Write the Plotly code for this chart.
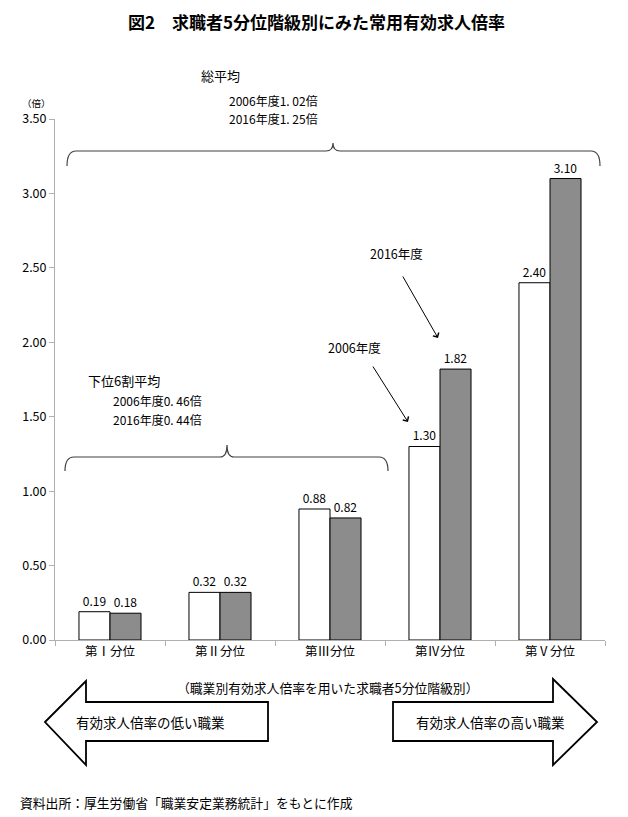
import plotly.graph_objects as go

# ---- data ----
categories = ["第Ⅰ分位", "第Ⅱ分位", "第Ⅲ分位", "第Ⅳ分位", "第Ⅴ分位"]
series_names = ["2006年度", "2016年度"]
values_2006 = [0.19, 0.32, 0.88, 1.30, 2.40]
values_2016 = [0.18, 0.32, 0.82, 1.82, 3.10]
y_ticks = [0.0, 0.5, 1.0, 1.5, 2.0, 2.5, 3.0, 3.5]

FONT = "Noto Sans CJK JP"
W, H = 628, 817
L, R, T, B = 55, 605, 119, 640  # plot area in page pixels


def px(x):
    return (x - L) / (R - L)


def py(y):
    return (B - y) / (B - T)


def path(points):
    return " ".join(f"{px(p[0]):.5f},{py(p[1]):.5f}" for p in points)


fig = go.Figure()
fig.add_trace(go.Bar(
    x=categories, y=values_2006, name=series_names[0],
    marker=dict(color="white", line=dict(color="black", width=1)),
    text=[f"{v:.2f}" for v in values_2006], textposition="outside",
    textfont=dict(size=12, color="black", family=FONT), cliponaxis=False,
))
fig.add_trace(go.Bar(
    x=categories, y=values_2016, name=series_names[1],
    marker=dict(color="#8c8c8c", line=dict(color="black", width=1)),
    text=[f"{v:.2f}" for v in values_2016], textposition="outside",
    textfont=dict(size=12, color="black", family=FONT), cliponaxis=False,
))

shapes = []
brace_style = dict(type="path", xref="paper", yref="paper",
                   line=dict(color="#404040", width=1.2))
# big brace (総平均)
big = ("M " + path([(67, 166)]) + " Q " + path([(67, 151), (76, 151)]) +
       " L " + path([(326, 151)]) + " Q " + path([(333, 151), (333, 143)]) +
       " Q " + path([(333, 151), (340, 151)]) + " L " + path([(591, 151)]) +
       " Q " + path([(600, 151), (600, 166)]))
shapes.append(dict(path=big, **brace_style))
# small brace (下位6割平均)
small = ("M " + path([(65, 471)]) + " Q " + path([(65, 457), (74, 457)]) +
         " L " + path([(220, 457)]) + " Q " + path([(227, 457), (227, 445)]) +
         " Q " + path([(227, 457), (234, 457)]) + " L " + path([(379, 457)]) +
         " Q " + path([(388, 457), (388, 471)]))
shapes.append(dict(path=small, **brace_style))

block_style = dict(type="path", xref="paper", yref="paper",
                   fillcolor="white", line=dict(color="black", width=1.8))
left_arrow = "M " + " L ".join(path([p]) for p in
                               [(45, 722), (86, 681), (86, 702), (268, 702),
                                (268, 741), (86, 741), (86, 765)]) + " Z"
right_arrow = "M " + " L ".join(path([p]) for p in
                                [(393, 702), (553, 702), (553, 679), (597, 722),
                                 (553, 765), (553, 741), (393, 741)]) + " Z"
shapes.append(dict(path=left_arrow, **block_style))
shapes.append(dict(path=right_arrow, **block_style))

ann = []


def text(t, x, y, size=13, anchor="left", bold=False):
    ann.append(dict(text=f"<b>{t}</b>" if bold else t, x=px(x), y=py(y),
                    xref="paper", yref="paper", xanchor=anchor, yanchor="middle",
                    align="left", showarrow=False,
                    font=dict(size=size, color="black", family=FONT)))


text("図2　求職者5分位階級別にみた常用有効求人倍率", 316, 22, size=17, anchor="center", bold=True)
text("総平均", 199, 75, size=13)
text("2006年度1. 02倍", 227, 100.5, size=12)
text("2016年度1. 25倍", 227, 118.5, size=12)
text("下位6割平均", 86, 380, size=13)
text("2006年度0. 46倍", 111, 401, size=12)
text("2016年度0. 44倍", 111, 419, size=12)
text("2016年度", 368, 253, size=12.5)
text("2006年度", 326, 347, size=12.5)
text("（倍）", 36, 103, size=9.5, anchor="center")
text("（職業別有効求人倍率を用いた求職者5分位階級別）", 327, 687, size=12.8, anchor="center")
text("有効求人倍率の低い職業", 150, 722, size=13.5, anchor="center")
text("有効求人倍率の高い職業", 490, 722, size=13.5, anchor="center")
text("資料出所：厚生労働省「職業安定業務統計」をもとに作成", 18, 802, size=12.8)

# pointer arrows
for head, tail in [((438, 338), (402, 275)), ((408, 422), (372, 365))]:
    ann.append(dict(text="", x=px(head[0]), y=py(head[1]), xref="paper", yref="paper",
                    ax=tail[0] - head[0], ay=tail[1] - head[1], axref="pixel", ayref="pixel",
                    showarrow=True, arrowhead=4, arrowsize=1.3, arrowwidth=1,
                    arrowcolor="black", standoff=0, startstandoff=0))

fig.update_layout(
    width=W, height=H, autosize=False,
    margin=dict(l=L, r=W - R, t=T, b=H - B, pad=0),
    paper_bgcolor="white", plot_bgcolor="white",
    barmode="group", bargap=0.436, bargroupgap=0,
    showlegend=False,
    font=dict(family=FONT, color="black"),
    shapes=shapes, annotations=ann,
    xaxis=dict(showline=True, linecolor="#b0b0b0", linewidth=1,
               ticks="outside", tickson="boundaries", ticklen=5, tickcolor="#b0b0b0",
               tickfont=dict(size=12.5, family=FONT, color="black"),
               showgrid=False, fixedrange=True),
    yaxis=dict(range=[0, 3.5], tickvals=y_ticks, ticktext=[f"{v:.2f}" for v in y_ticks],
               showline=True, linecolor="#b0b0b0", linewidth=1,
               ticks="outside", ticklen=5, tickcolor="#b0b0b0",
               tickfont=dict(size=12.5, family=FONT, color="black"),
               showgrid=False, zeroline=False, fixedrange=True),
)

fig.write_html("out.html")
